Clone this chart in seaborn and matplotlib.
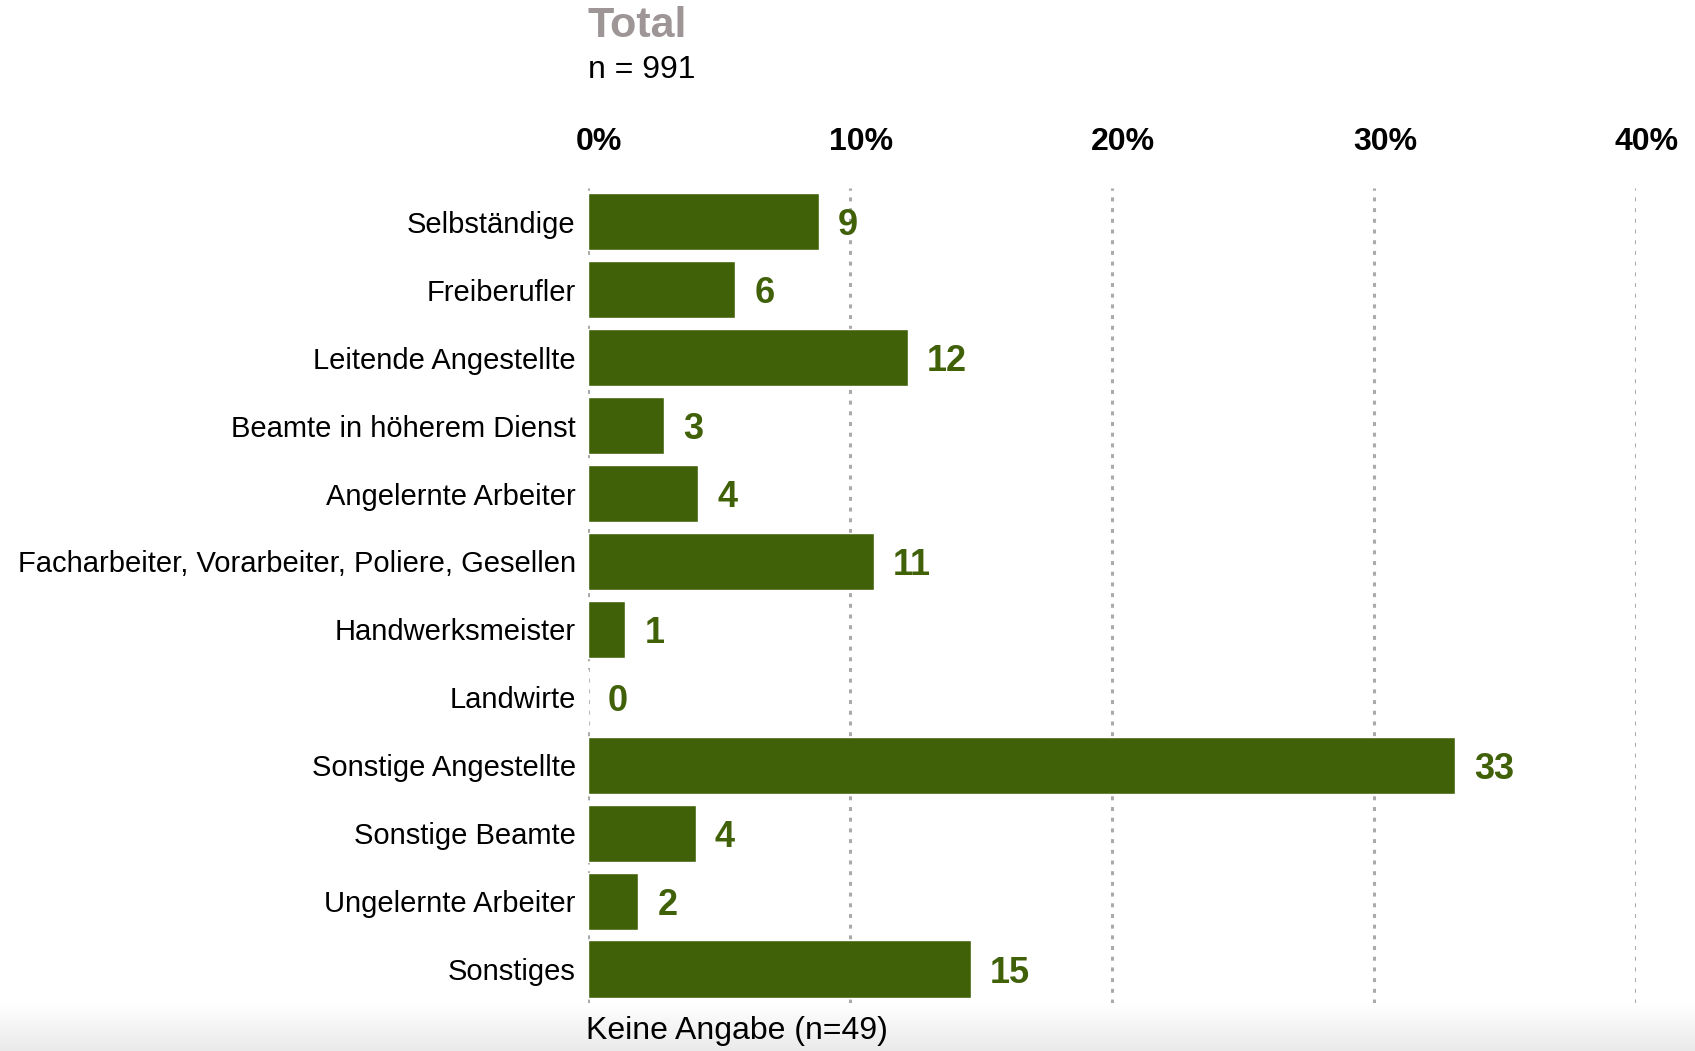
import numpy as np
import pandas as pd
import matplotlib
matplotlib.use('Agg')
import matplotlib.pyplot as plt
import matplotlib.transforms as mtransforms
import seaborn as sns

# Chart data
categories = ['Selbständige', 'Freiberufler', 'Leitende Angestellte', 'Beamte in höherem Dienst',
              'Angelernte Arbeiter', 'Facharbeiter, Vorarbeiter, Poliere, Gesellen', 'Handwerksmeister',
              'Landwirte', 'Sonstige Angestellte', 'Sonstige Beamte', 'Ungelernte Arbeiter', 'Sonstiges']
shares = [8.8, 5.6, 12.2, 2.9, 4.2, 10.9, 1.4, 0.0, 33.1, 4.1, 1.9, 14.6]
tick_values = [0, 10, 20, 30, 40]
tick_labels = ['0%', '10%', '20%', '30%', '40%']
title = 'Total'
subtitle = 'n = 991'
footnote = 'Keine Angabe (n=49)'

bar_color = '#416109'

sns.set_style('white')
plt.rcParams['font.family'] = ['Liberation Sans', 'DejaVu Sans']

df = pd.DataFrame({'category': categories, 'share': shares})

fig = plt.figure(figsize=(16.95, 10.51), dpi=100)

# light gray gradient strip at the bottom
bg = fig.add_axes([0, 0, 1, 0.045], zorder=-5)
grad = np.linspace(0, 1, 100).reshape(-1, 1)
bg.imshow(grad, aspect='auto', cmap=matplotlib.colors.LinearSegmentedColormap.from_list(
    'g', ['#EAEAEA', '#FFFFFF']), extent=[0, 1, 0, 1], origin='lower')
bg.axis('off')

ax = fig.add_axes([0.347, 0.0457, 0.618, 0.7755])
sns.barplot(data=df, x='share', y='category', color=bar_color, width=0.84,
            saturation=1, ax=ax, zorder=3)

ax.set_xlim(0, 40)
ax.set_xticks(tick_values)
ax.set_xticklabels(tick_labels, fontsize=23, fontweight='bold', color='black')
ax.xaxis.tick_top()
ax.tick_params(axis='x', length=0, pad=22)
ax.tick_params(axis='y', length=0, pad=9, labelsize=21)
for lbl in ax.get_yticklabels():
    lbl.set_color('black')
# nudge the percent labels a bit to the right like the original
shift = mtransforms.ScaledTranslation(8 / 72, 0, fig.dpi_scale_trans)
for lbl in ax.get_xticklabels():
    lbl.set_transform(lbl.get_transform() + shift)
ax.set_xlabel('')
ax.set_ylabel('')
for s in ax.spines.values():
    s.set_visible(False)

for v in tick_values:
    ax.axvline(v, color='#AAAAAA', linewidth=2.2, linestyle=(0, (1.3, 2.2)), zorder=1)

for i, v in enumerate(shares):
    ax.annotate(f'{v:.0f}', xy=(v, i), xytext=(14, 0), textcoords='offset points',
                ha='left', va='center_baseline', fontsize=26, fontweight='bold', color=bar_color)

fig.text(588 / 1695, 1 - 26 / 1051, title, fontsize=31, fontweight='bold', color='#9E9696',
         ha='left', va='center')
fig.text(588 / 1695, 1 - 70 / 1051, subtitle, fontsize=23, color='black', ha='left', va='center')
fig.text(586 / 1695, 1 - 1031 / 1051, footnote, fontsize=23, color='black', ha='left', va='center')

fig.savefig('out.png', dpi=100)
